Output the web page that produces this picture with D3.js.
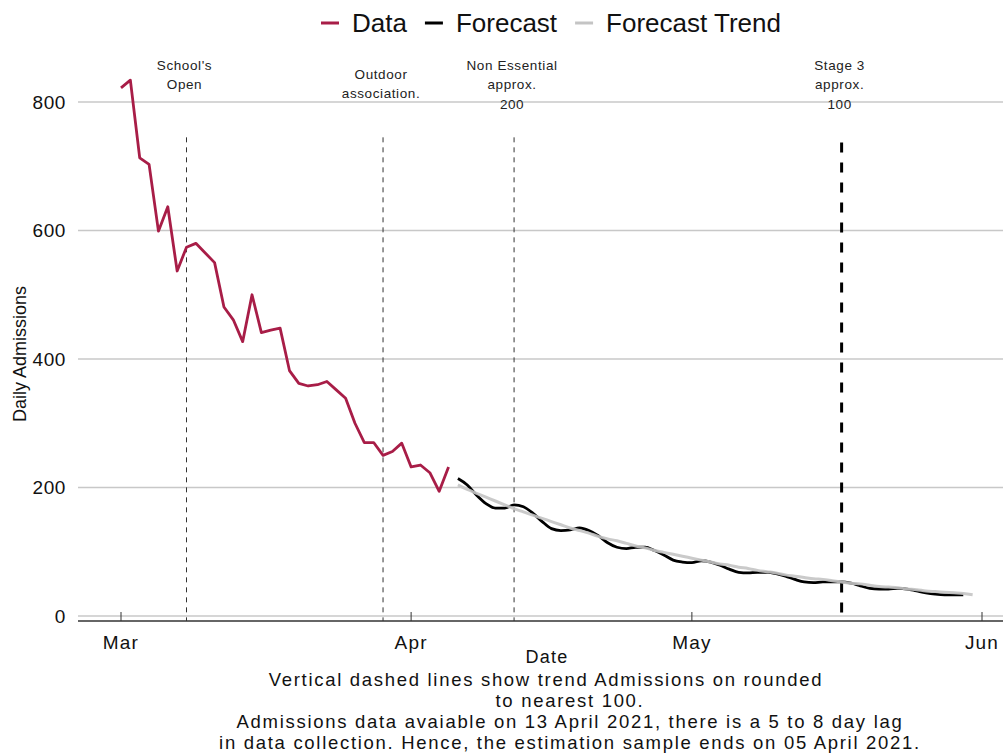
<!DOCTYPE html>
<html>
<head>
<meta charset="utf-8">
<script src="https://cdn.jsdelivr.net/npm/d3@7"></script>
<style>
  html, body { margin: 0; padding: 0; background: #fff; }
  svg { display: block; font-family: "Liberation Sans", Arial, sans-serif; }
</style>
</head>
<body>
<svg id="chart" width="1006" height="754"></svg>
<script>
// observed daily admissions, 1 Mar - 5 Apr 2021
const dataStart = "2021-03-01";
const dataValues = [822, 834, 713, 703, 599, 637, 537, 574, 580, 565, 550, 481, 461, 427, 500, 441,
  445, 448, 382, 362, 358, 360, 365, 352, 339, 300, 270, 270, 250, 256, 269, 232, 235, 223, 194, 232];

// forecast, 6 Apr - 30 May 2021
const forecastStart = "2021-04-06";
const forecastValues = [214, 204, 188, 175, 168, 168, 173, 170, 160, 147, 136, 133, 134, 137, 133, 125,
  114, 107, 105, 107, 107, 102, 95, 87, 84, 83, 86, 84, 79, 73, 68, 67, 68, 68, 66, 62, 57, 53, 52, 53,
  53, 53, 51, 47, 43, 42, 42, 43, 42, 39, 36, 34, 33, 33, 33];

// forecast trend, 6 Apr - 31 May 2021
const trendStart = "2021-04-06";
const trendValues = [204, 197, 191, 185, 179, 173, 167, 162, 157, 152, 147, 142, 137, 133, 129, 124,
  120, 117, 113, 109, 106, 102, 99, 96, 93, 90, 87, 84, 81, 79, 76, 74, 71, 69, 67, 64, 62, 60, 58, 57,
  55, 53, 51, 50, 48, 46, 45, 44, 42, 41, 39, 38, 37, 36, 35, 33];

// vertical event lines
const eventDates = ["2021-03-08", "2021-03-29", "2021-04-12", "2021-05-17"];
const eventLabels = [["School's", "Open"], ["Outdoor", "association."], ["Non Essential", "approx.", "200"], ["Stage 3", "approx.", "100"]];
const eventBold = [false, false, false, true];

const yTicks = [0, 200, 400, 600, 800];
const monthTicks = ["2021-03-01", "2021-04-01", "2021-05-01", "2021-06-01"];

const legendNames = ["Data", "Forecast", "Forecast Trend"];
const legendColors = ["#A81D47", "#000000", "#C4C4C4"];

const captionLines = [
  "Vertical dashed lines show trend Admissions on rounded",
  "to nearest 100.",
  "Admissions data avaiable on 13 April 2021, there is a 5 to 8 day lag",
  "in data collection. Hence, the estimation sample ends on 05 April 2021."
];

const parse = d3.utcParse("%Y-%m-%d");
const day = 24 * 3600 * 1000;
function series(start, values) {
  const t0 = parse(start);
  return values.map((v, i) => ({ date: new Date(t0.getTime() + i * day), value: v }));
}

const svg = d3.select("#chart");
const panel = { left: 78, right: 1003, axisY: 621 };

const x = d3.scaleUtc()
  .domain([parse("2021-03-01"), parse("2021-06-01")])
  .range([121, 982]);
const y = d3.scaleLinear()
  .domain([0, 800])
  .range([616, 102]);

// gridlines
svg.append("g").selectAll("line")
  .data(yTicks)
  .join("line")
  .attr("x1", panel.left).attr("x2", panel.right)
  .attr("y1", d => y(d)).attr("y2", d => y(d))
  .attr("stroke", "#C8C8C8")
  .attr("stroke-width", 1.6);

// y tick labels
svg.append("g").selectAll("text")
  .data(yTicks)
  .join("text")
  .attr("x", 66)
  .attr("y", d => y(d))
  .attr("dy", "0.36em")
  .attr("text-anchor", "end")
  .attr("font-size", 19)
  .attr("letter-spacing", 0.6)
  .attr("fill", "#111")
  .text(d => d);

svg.append("text")
  .attr("transform", `translate(26,${y(400) - 5}) rotate(-90)`)
  .attr("text-anchor", "middle")
  .attr("font-size", 18)
  .attr("fill", "#111")
  .text("Daily Admissions");

// x axis line and ticks
svg.append("line")
  .attr("x1", panel.left).attr("x2", panel.right)
  .attr("y1", panel.axisY).attr("y2", panel.axisY)
  .attr("stroke", "#666")
  .attr("stroke-width", 1.8);

svg.append("g").selectAll("line")
  .data(monthTicks.map(parse))
  .join("line")
  .attr("x1", d => x(d)).attr("x2", d => x(d))
  .attr("y1", 612).attr("y2", panel.axisY)
  .attr("stroke", "#333")
  .attr("stroke-width", 1);

svg.append("g").selectAll("text")
  .data(monthTicks.map(parse))
  .join("text")
  .attr("x", d => x(d))
  .attr("y", 642)
  .attr("dy", "0.36em")
  .attr("text-anchor", "middle")
  .attr("font-size", 19)
  .attr("letter-spacing", 1.2)
  .attr("fill", "#111")
  .text(d3.utcFormat("%b"));

svg.append("text")
  .attr("x", 547).attr("y", 657)
  .attr("dy", "0.36em")
  .attr("text-anchor", "middle")
  .attr("font-size", 18)
  .attr("letter-spacing", 1.2)
  .attr("fill", "#111")
  .text("Date");

// caption
svg.append("g").selectAll("text")
  .data(captionLines)
  .join("text")
  .attr("x", (d, i) => i === 0 ? 546 : 570)
  .attr("y", (d, i) => 679 + i * 21)
  .attr("dy", "0.36em")
  .attr("text-anchor", "middle")
  .attr("font-size", 18.5)
  .attr("letter-spacing", 1.7)
  .attr("fill", "#111")
  .text(d => d);

// event lines
const events = eventDates.map((d, i) => ({ date: parse(d), lines: eventLabels[i], bold: eventBold[i] }));
svg.append("g").selectAll("line")
  .data(events)
  .join("line")
  .attr("x1", d => x(d.date)).attr("x2", d => x(d.date))
  .attr("y1", d => d.bold ? y(737) : y(745))
  .attr("y2", panel.axisY)
  .attr("stroke", d => d.bold ? "#000" : "#333")
  .attr("stroke-width", d => d.bold ? 3 : 1)
  .attr("stroke-dasharray", d => d.bold ? "10,10" : "5,5");

const labels = svg.append("g").selectAll("text")
  .data(events)
  .join("text")
  .attr("x", d => x(d.date) - 2)
  .attr("y", d => d.lines.length === 2 && d.date > parse("2021-03-20") ? 74 : 65)
  .attr("text-anchor", "middle")
  .attr("font-size", 13.5)
  .attr("letter-spacing", 0.6)
  .attr("fill", "#222");
labels.selectAll("tspan")
  .data(d => d.lines.map(l => ({ l, x: x(d.date) - 2 })))
  .join("tspan")
  .attr("x", t => t.x)
  .attr("dy", (t, i) => i === 0 ? "0.36em" : 19.5)
  .text(t => t.l);

// series lines
const line = d3.line()
  .x(d => x(d.date))
  .y(d => y(d.value));

svg.append("path")
  .datum(series(dataStart, dataValues))
  .attr("d", line)
  .attr("fill", "none")
  .attr("stroke", legendColors[0])
  .attr("stroke-width", 2.8)
  .attr("stroke-linejoin", "round");

svg.append("path")
  .datum(series(forecastStart, forecastValues))
  .attr("d", line.curve(d3.curveMonotoneX))
  .attr("fill", "none")
  .attr("stroke", legendColors[1])
  .attr("stroke-width", 2.8);

svg.append("path")
  .datum(series(trendStart, trendValues))
  .attr("d", line.curve(d3.curveMonotoneX))
  .attr("fill", "none")
  .attr("stroke", legendColors[2])
  .attr("stroke-width", 3)
  .attr("opacity", 0.9);

// legend
const legend = svg.append("g").attr("transform", "translate(321,23)");
let lx = 0;
legendNames.forEach((name, i) => {
  legend.append("line")
    .attr("x1", lx).attr("x2", lx + 18)
    .attr("y1", 0).attr("y2", 0)
    .attr("stroke", legendColors[i])
    .attr("stroke-width", 3);
  const t = legend.append("text")
    .attr("x", lx + 31)
    .attr("dy", "0.36em")
    .attr("font-size", 26)
    .attr("fill", "#111")
    .text(name);
  lx += 31 + t.node().getComputedTextLength() + 18;
});
</script>
</body>
</html>
